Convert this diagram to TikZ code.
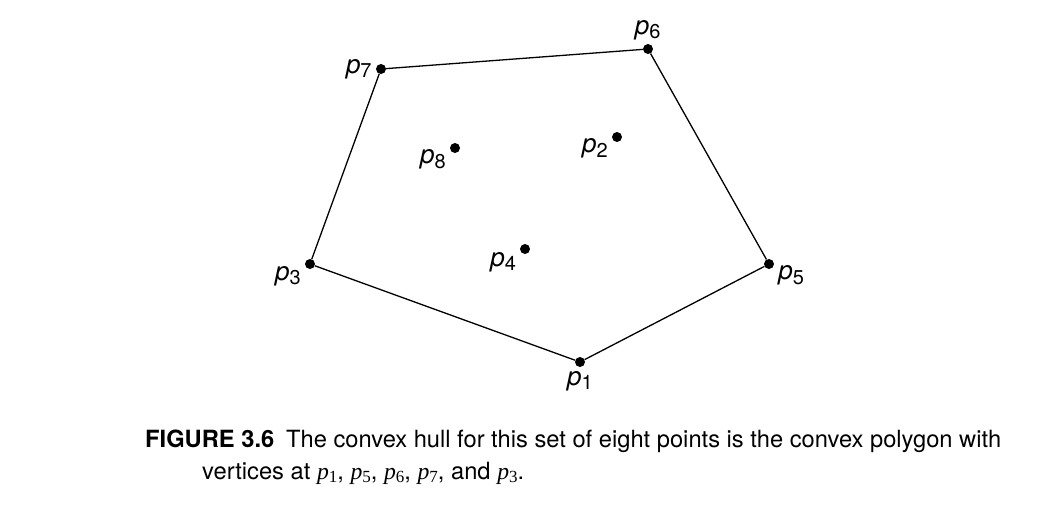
\documentclass[tikz,border=0pt]{standalone}
\usepackage{fontspec}
\setmainfont{TeX Gyre Heros}
\newfontfamily\capmath{Liberation Serif}
\usetikzlibrary{positioning}
\newcommand{\lp}[1]{\textit{p}\raisebox{-0.3ex}{\fontsize{20}{20}\selectfont #1}}
\newcommand{\cp}[1]{{\capmath\textit{p}\raisebox{-0.3ex}{\fontsize{17}{17}\selectfont #1}}}

\begin{document}
\begin{tikzpicture}[x=1pt,y=-1pt,every node/.style={font=\fontsize{23.7}{28}\selectfont}]
\tikzstyle{pt}=[circle,fill=black,inner sep=0pt,minimum size=10pt]
\tikzstyle{lbl}=[inner sep=1pt,label distance=3pt,font=\fontsize{26}{28}\selectfont]
\useasboundingbox (0,0) rectangle (1057,528);
% points
\node[pt,label={[lbl]below:\lp{1}}] (p1) at (580,362) {};
\node[pt,label={[lbl]185:\lp{2}}] (p2) at (617,137) {};
\node[pt,label={[lbl]190:\lp{3}}] (p3) at (310,264) {};
\node[pt,label={[lbl]195:\lp{4}}] (p4) at (525,249) {};
\node[pt,label={[lbl]355:\lp{5}}] (p5) at (769,264) {};
\node[pt,label={[lbl]92:\lp{6}}] (p6) at (648,49) {};
\node[pt,label={[lbl]182:\lp{7}}] (p7) at (381,69) {};
\node[pt,label={[lbl]185:\lp{8}}] (p8) at (455,148) {};
% hull
\draw[line width=1.3pt] (p1)--(p5)--(p6)--(p7)--(p3)--(p1);
% caption
\node[anchor=base west,inner sep=0pt] (cap1) at (145,447)
  {\textbf{FIGURE 3.6}\enspace The convex hull for this set of eight points is the convex polygon with};
\node[anchor=base west,inner sep=0pt] (cap2) at (202,479)
  {vertices at \cp{1}, \cp{5}, \cp{6}, \cp{7}, and \cp{3}.};
\end{tikzpicture}
\end{document}
